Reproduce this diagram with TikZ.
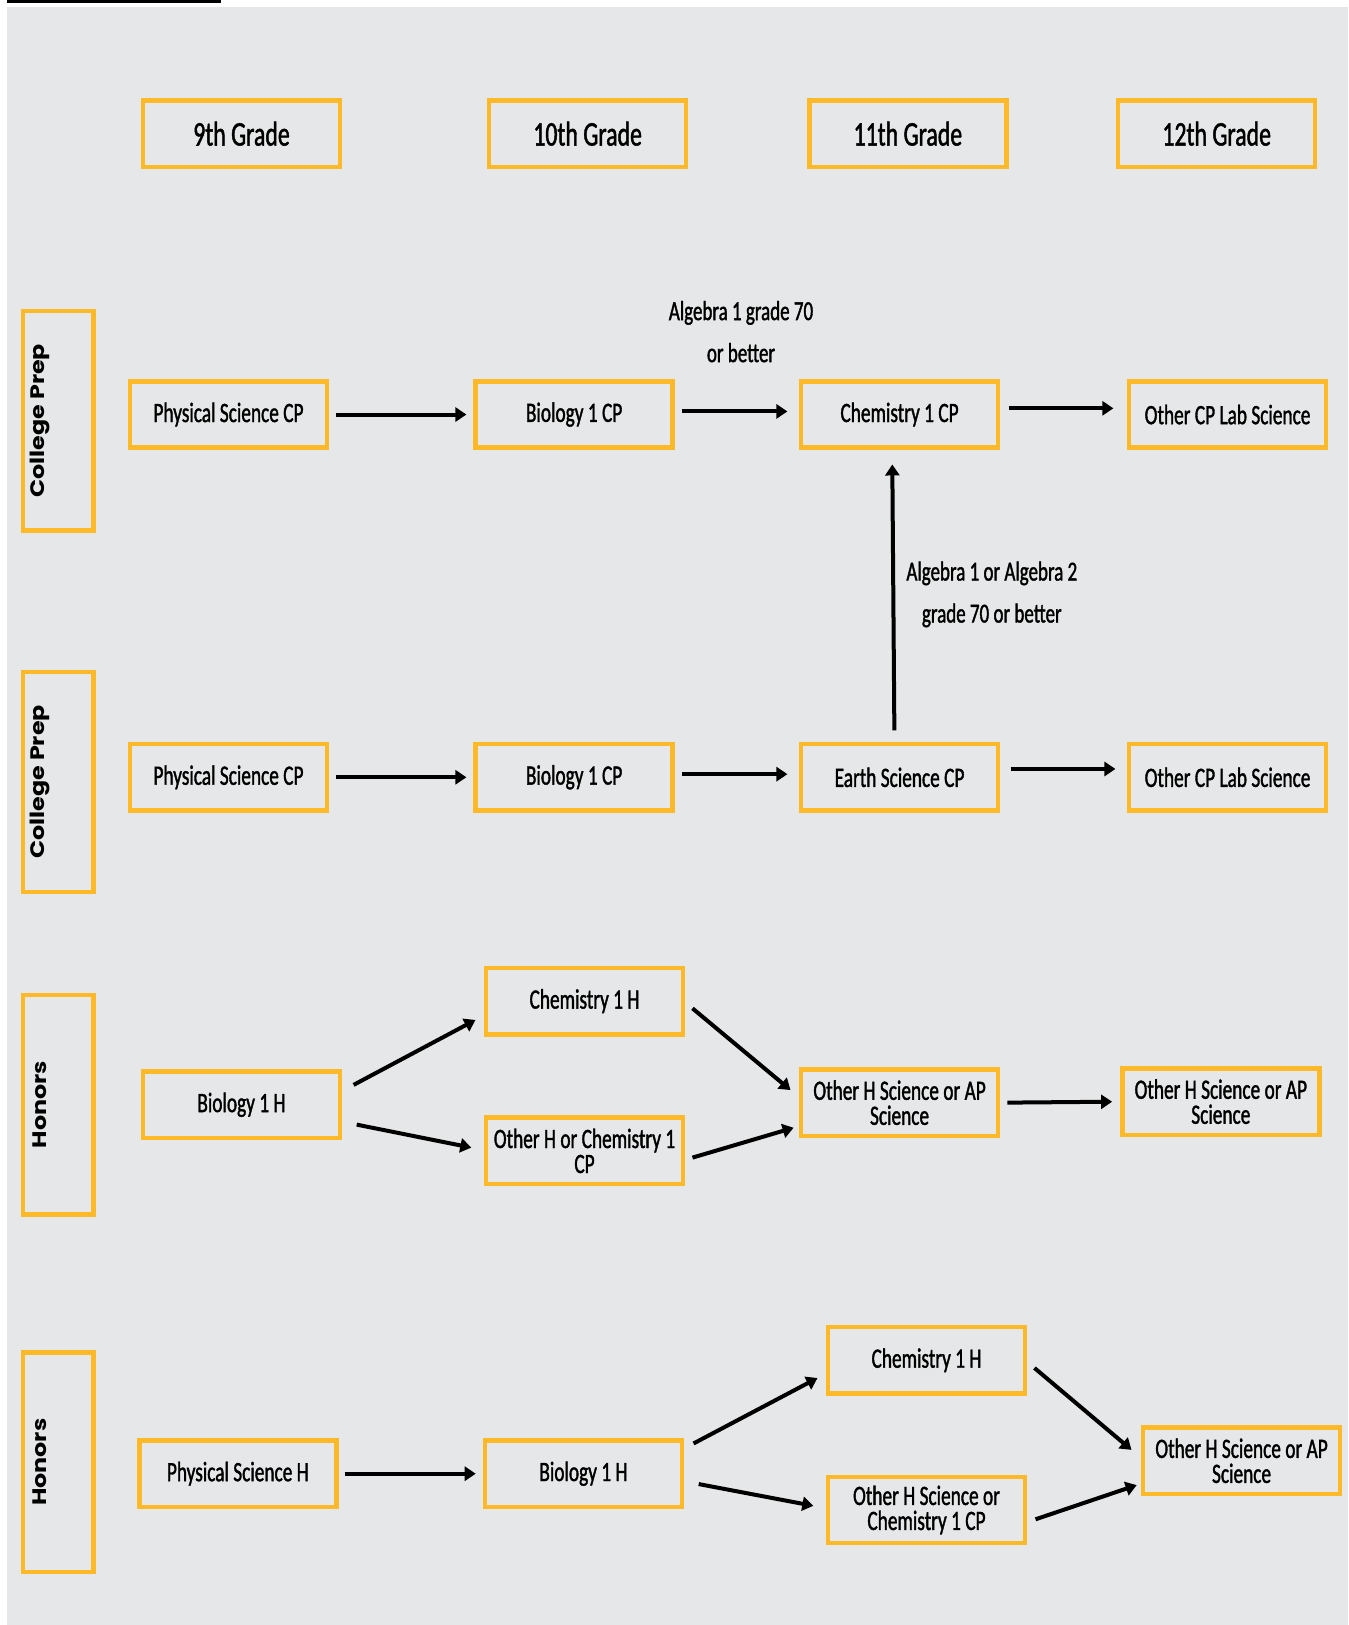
\documentclass[tikz,border=0pt]{standalone}
\usepackage{fontspec}
\setmainfont{Carlito}[FakeStretch=0.69, FakeBold=1.3]
\newfontfamily\sidefont{Poppins}[FakeStretch=1.22]
\usetikzlibrary{arrows.meta,calc}
\definecolor{bggray}{RGB}{230,231,232}
\definecolor{gold}{RGB}{253,185,39}
\tikzset{
  cbox/.style={draw=gold, line width=4.5pt, rectangle, minimum width=196.9pt, minimum height=66.3pt,
    inner sep=0pt, align=center, font=\fontsize{28}{25}\selectfont, text=black},
  gradebox/.style={cbox, font=\fontsize{34.5}{34}\selectfont},
  sidebox/.style={draw=gold, line width=4.5pt, rectangle, minimum width=70.5pt, minimum height=219.7pt, inner sep=0pt},
  sidetext/.style={rotate=90, inner sep=0pt, font=\sidefont\bfseries\fontsize{19.5}{20}\selectfont},
  cond/.style={align=center, inner sep=0pt, font=\fontsize{27.5}{42}\selectfont},
  arr/.style={line width=4pt, -{Triangle[length=11pt,width=14pt]}}
}
\begin{document}
\begin{tikzpicture}[x=1.0361pt, y=-1.0361pt]
\useasboundingbox (0,0) rectangle (1301,1568);
\fill[bggray] (7,7) rectangle (1301,1568);
\fill[black] (7,0) rectangle (213,2.9);

% grade headers
\node[gradebox] (g9)  at (233,129) {9th Grade};
\node[gradebox] (g10) at (567,129) {10th Grade};
\node[gradebox] (g11) at (876,129) {11th Grade};
\node[gradebox] (g12) at (1174,129) {12th Grade};

% side boxes
\node[sidebox] (s1) at (56,406) {};
\node[sidebox] (s2) at (56,754.5) {};
\node[sidebox] (s3) at (56,1066) {};
\node[sidebox] (s4) at (56,1411) {};
\node[sidetext] (s1t) at (38.5,406) {College Prep};
\node[sidetext] (s2t) at (38.5,754.5) {College Prep};
\node[sidetext] (s3t) at (38.5,1066) {Honors};
\node[sidetext] (s4t) at (38.5,1411) {Honors};

% row 1
\node[cbox] (ps1) at (220.5,400) {Physical Science CP};
\node[cbox] (bio1) at (554,400) {Biology 1 CP};
\node[cbox] (chem1) at (868,400) {Chemistry 1 CP};
\node[cbox] (oth1) at (1184.5,400) {Other CP Lab Science};
\draw[arr, shorten <=7pt, shorten >=7pt] (ps1.east) -- (bio1.west);
\draw[arr] ([shift={(7,-3)}]bio1.east) -- ([shift={(-11,-3)}]chem1.west);
\draw[arr] ([shift={(8,-6)}]chem1.east) -- ([shift={(-13,-6)}]oth1.west);
\node[cond] (lab1) at (715,320) {Algebra 1 grade 70\\or better};

% row 2
\node[cbox] (ps2) at (220.5,750) {Physical Science CP};
\node[cbox] (bio2) at (554,750) {Biology 1 CP};
\node[cbox] (earth2) at (868,750) {Earth Science CP};
\node[cbox] (oth2) at (1184.5,750) {Other CP Lab Science};
\draw[arr, shorten <=7pt, shorten >=7pt] (ps2.east) -- (bio2.west);
\draw[arr] ([shift={(7,-3)}]bio2.east) -- ([shift={(-11,-3)}]earth2.west);
\draw[arr] ([shift={(10,-8)}]earth2.east) -- ([shift={(-11,-8)}]oth2.west);
\draw[arr] ([shift={(-5,-11)}]earth2.north) -- ([shift={(-7,14)}]chem1.south);
\node[cond] (lab2) at (957,573.5) {Algebra 1 or Algebra 2\\grade 70 or better};

% row 3
\node[cbox] (bio3) at (233,1066) {Biology 1 H};
\node[cbox] (chem3) at (564,966) {Chemistry 1 H};
\node[cbox] (oth3) at (564,1110.5) {Other H or Chemistry 1\\CP};
\node[cbox] (ohs3) at (868,1064) {Other H Science or AP\\Science};
\node[cbox] (ap3) at (1178,1063) {Other H Science or AP\\Science};
\draw[arr] ([shift={(11,15)}]bio3.north east) -- ([shift={(-8,-16)}]chem3.south west);
\draw[arr] ([shift={(14,-15)}]bio3.south east) -- ([shift={(-12,31)}]oth3.north west);
\draw[arr] ([shift={(7,7)}]chem3.east) -- ([shift={(-8,22)}]ohs3.north west);
\draw[arr] ([shift={(7,6.5)}]oth3.east) -- ([shift={(-5,-10)}]ohs3.south west);
\draw[arr, shorten <=7pt, shorten >=8pt] (ohs3.east) -- (ap3.west);

% row 4
\node[cbox] (ps4) at (229.5,1422) {Physical Science H};
\node[cbox] (bio4) at (563,1422) {Biology 1 H};
\node[cbox] (chem4) at (894,1312.5) {Chemistry 1 H};
\node[cbox] (oth4) at (894,1457) {Other H Science or\\Chemistry 1 CP};
\node[cbox] (ap4) at (1198,1409.5) {Other H Science or AP\\Science};
\draw[arr, shorten <=6pt, shorten >=7pt] (ps4.east) -- (bio4.west);
\draw[arr] ([shift={(9,5)}]bio4.north east) -- ([shift={(-8,-17)}]chem4.south west);
\draw[arr] ([shift={(14,10)}]bio4.east) -- ([shift={(-12,-4)}]oth4.west);
\draw[arr] ([shift={(7,7.5)}]chem4.east) -- ([shift={(-9,-10.5)}]ap4.west);
\draw[arr] ([shift={(8,9)}]oth4.east) -- ([shift={(-4,23.5)}]ap4.west);
\end{tikzpicture}
\end{document}
